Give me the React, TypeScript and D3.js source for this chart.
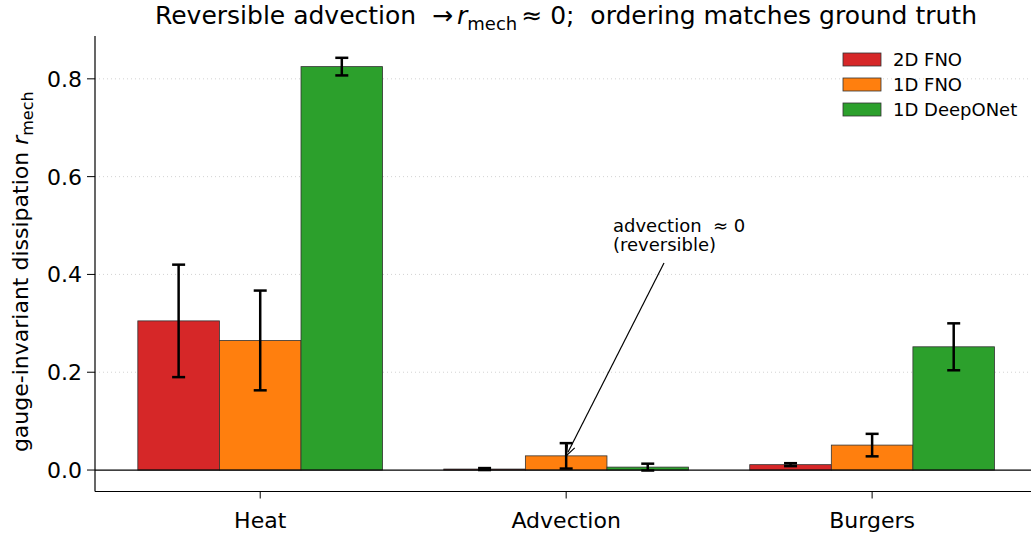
import React from "react";
import * as d3 from "d3";

const categories = ["Heat", "Advection", "Burgers"];
const seriesNames = ["2D FNO", "1D FNO", "1D DeepONet"];
const seriesColors = ["#d62728", "#ff7f0e", "#2ca02c"];
const fno2dValues = [0.305, 0.002, 0.011];
const fno2dErrors = [0.115, 0.002, 0.003];
const fno1dValues = [0.265, 0.029, 0.051];
const fno1dErrors = [0.102, 0.026, 0.023];
const deeponetValues = [0.825, 0.006, 0.252];
const deeponetErrors = [0.018, 0.007, 0.048];
const yTicks = [0.0, 0.2, 0.4, 0.6, 0.8];

const W = 1031;
const H = 533;
const FONT = "DejaVu Sans, sans-serif";

export default function App() {
  const values = [fno2dValues, fno1dValues, deeponetValues];
  const errors = [fno2dErrors, fno1dErrors, deeponetErrors];
  const left = 95, right = 1031, top = 36, bottom = 491.5;
  const x = d3.scaleLinear().domain([-0.54, 2.5193]).range([left, right]);
  const y = d3.scaleLinear().domain([-0.0439, 0.8876]).range([bottom, top]);
  const bw = 0.8 / 3;
  const barPx = x(bw) - x(0);

  const bars: any[] = [];
  const errs: any[] = [];
  values.forEach((vals, s) => {
    vals.forEach((v, c) => {
      const cx = c + (s - 1) * bw;
      const x0 = x(cx - bw / 2);
      bars.push(
        <rect key={`b${s}-${c}`} x={x0} y={y(v)} width={barPx} height={y(0) - y(v)}
          fill={seriesColors[s]} stroke="#333" strokeWidth={0.8} />
      );
      const e = errors[s][c];
      const xc = x(cx);
      errs.push(
        <g key={`e${s}-${c}`} stroke="#000" strokeWidth={2.5}>
          <line x1={xc} x2={xc} y1={y(v - e)} y2={y(v + e)} />
          <line x1={xc - 6.5} x2={xc + 6.5} y1={y(v - e)} y2={y(v - e)} />
          <line x1={xc - 6.5} x2={xc + 6.5} y1={y(v + e)} y2={y(v + e)} />
        </g>
      );
    });
  });

  // annotation arrow
  const ax = x(1), ay = y(fno1dValues[1]);
  const tx = 664, ty = 263;
  const ang = Math.atan2(ay - ty, ax - tx);
  const hl = 11, hw = 4;
  const hx1 = ax - hl * Math.cos(ang) + hw * Math.sin(ang);
  const hy1 = ay - hl * Math.sin(ang) - hw * Math.cos(ang);
  const hx2 = ax - hl * Math.cos(ang) - hw * Math.sin(ang);
  const hy2 = ay - hl * Math.sin(ang) + hw * Math.cos(ang);

  return (
    <svg width={W} height={H} style={{ display: "block", position: "absolute", left: 0, top: 0, whiteSpace: "pre" }} fontFamily={FONT}>
      <rect width={W} height={H} fill="#fff" />
      {/* grid */}
      {yTicks.filter((t) => t > 0).map((t) => (
        <line key={`g${t}`} x1={left} x2={right} y1={y(t)} y2={y(t)} stroke="#b0b0b0" strokeOpacity={0.7}
          strokeWidth={0.8} strokeDasharray="1,3" />
      ))}
      {bars}
      {/* zero line */}
      <line x1={left} x2={right} y1={y(0)} y2={y(0)} stroke="#000" strokeWidth={1.2} />
      {errs}
      {/* spines */}
      <line x1={left} x2={left} y1={top} y2={bottom} stroke="#000" strokeWidth={1.2} />
      <line x1={left} x2={right} y1={bottom} y2={bottom} stroke="#000" strokeWidth={1.2} />
      {/* y ticks */}
      {yTicks.map((t) => (
        <g key={`yt${t}`}>
          <line x1={left - 8} x2={left} y1={y(t)} y2={y(t)} stroke="#000" strokeWidth={1} />
          <text x={left - 13} y={y(t)} dy="0.36em" textAnchor="end" fontSize={22}>{t.toFixed(1)}</text>
        </g>
      ))}
      {/* x ticks */}
      {categories.map((c, i) => (
        <g key={`xt${c}`}>
          <line x1={x(i)} x2={x(i)} y1={bottom} y2={bottom + 7} stroke="#000" strokeWidth={1} />
          <text x={x(i)} y={bottom + 36} textAnchor="middle" fontSize={22}>{c}</text>
        </g>
      ))}
      {/* y label */}
      <text transform={`translate(28,${(top + bottom) / 2 + 8}) rotate(-90)`} textAnchor="middle" fontSize={22}>
        gauge-invariant dissipation <tspan fontStyle="italic">r</tspan>
        <tspan fontSize={16} dy={5}>mech</tspan>
      </text>
      {/* title */}
      <text x={566} y={24} textAnchor="middle" fontSize={25} xmlSpace="preserve">
        Reversible advection  →<tspan dx={4} fontStyle="italic">r</tspan>
        <tspan fontSize={18} dy={6}>mech</tspan>
        <tspan dx={4} dy={-6}>≈ 0;  ordering matches ground truth</tspan>
      </text>
      {/* annotation */}
      <text x={613} y={232} fontSize={18} xmlSpace="preserve">advection  ≈ 0</text>
      <text x={613} y={251} fontSize={18}>(reversible)</text>
      <line x1={tx} y1={ty} x2={ax - 4 * Math.cos(ang)} y2={ay - 4 * Math.sin(ang)} stroke="#000" strokeWidth={1.2} />
      <path d={`M${ax},${ay} L${hx1},${hy1} M${ax},${ay} L${hx2},${hy2}`} stroke="#000" strokeWidth={1.2} fill="none" />
      {/* legend */}
      {seriesNames.map((n, i) => (
        <g key={`l${n}`}>
          <rect x={843} y={53 + i * 25} width={38} height={13} fill={seriesColors[i]} stroke="#333" strokeWidth={0.8} />
          <text x={893} y={60 + i * 25} dy="0.36em" fontSize={18}>{n}</text>
        </g>
      ))}
    </svg>
  );
}
